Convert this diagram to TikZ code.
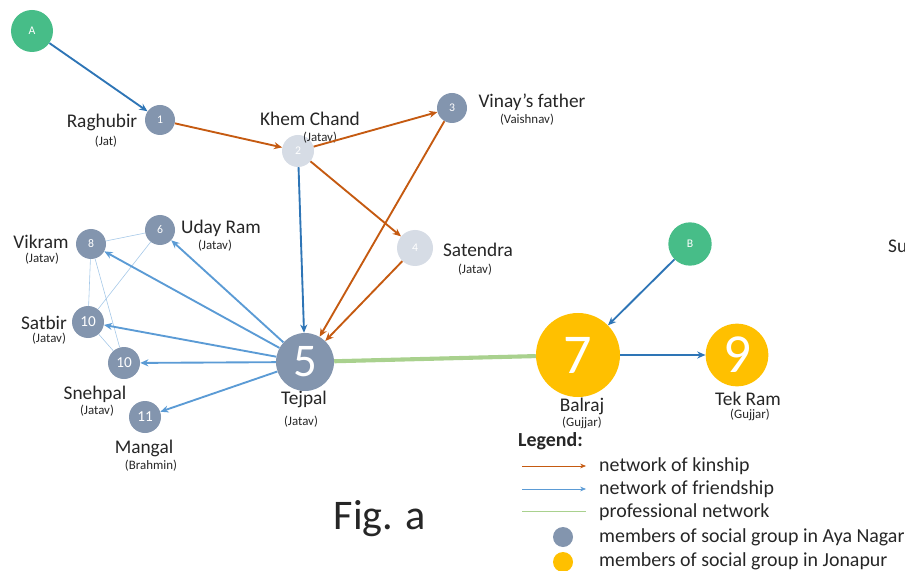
\documentclass[tikz,border=0pt]{standalone}
\usepackage{fontspec}
\setmainfont{Carlito}
\usetikzlibrary{arrows.meta}
\definecolor{seedgreen}{HTML}{47BD88}
\definecolor{ayagrey}{HTML}{8395AE}
\definecolor{palegrey}{HTML}{D6DCE5}
\definecolor{jonagold}{HTML}{FFC000}
\definecolor{kincol}{HTML}{C55A11}
\definecolor{friendcol}{HTML}{5B9BD5}
\definecolor{tiecol}{HTML}{2E75B6}
\definecolor{profcol}{HTML}{A9D18E}
\definecolor{inkcol}{HTML}{262626}
\tikzset{
  member/.style={circle,inner sep=0pt,text=white,font=\fontsize{10}{11}\selectfont},
  aya/.style={member,fill=ayagrey},
  pale/.style={member,fill=palegrey},
  seed/.style={member,fill=seedgreen},
  jona/.style={member,fill=jonagold},
  who/.style={text=inkcol,font=\fontsize{16.5}{18}\selectfont,inner sep=0pt},
  caste/.style={text=inkcol,font=\fontsize{11}{12}\selectfont,inner sep=0pt},
  keytext/.style={text=inkcol,font=\fontsize{17}{18}\selectfont,inner sep=0pt,anchor=west},
  kin/.style={kincol,line width=1.6pt,-{Stealth[length=7pt,width=6pt]}},
  friend/.style={friendcol,line width=1.6pt,-{Stealth[length=7pt,width=6pt]}},
  tie/.style={tiecol,line width=1.6pt,-{Stealth[length=7pt,width=6pt]}},
  mesh/.style={friendcol!55,line width=0.5pt},
  prof/.style={profcol,line width=3.5pt}
}
\begin{document}
\begin{tikzpicture}[x=0.03cm,y=-0.03cm]
  \useasboundingbox (0,0) rectangle (905,571);
  \path
    (32,31) node[seed,minimum size=1.26cm] (A){A}
    (690,244) node[seed,minimum size=1.3cm] (B){B}
    (160,120) node[aya,minimum size=0.9cm] (1){1}
    (298,151) node[pale,minimum size=0.96cm] (2){2}
    (452,108) node[aya,minimum size=0.9cm] (3){3}
    (415,248) node[pale,minimum size=1.08cm] (4){4}
    (305,362) node[aya,minimum size=1.74cm,font=\fontsize{40}{40}\selectfont] (5){5}
    (160,230) node[aya,minimum size=0.9cm] (6){6}
    (91,244) node[aya,minimum size=0.9cm] (8){8}
    (88,322) node[aya,minimum size=0.96cm,font=\fontsize{13}{14}\selectfont] (10){10}
    (124,363) node[aya,minimum size=0.96cm,font=\fontsize{13}{14}\selectfont] (10b){10}
    (145,417) node[aya,minimum size=0.96cm,font=\fontsize{13}{14}\selectfont] (11){11}
    (578,355) node[jona,minimum size=2.52cm,font=\fontsize{48}{48}\selectfont] (7){7}
    (737,355) node[jona,minimum size=1.88cm,font=\fontsize{47}{47}\selectfont] (9){9};
  % names and castes
  \path
    (102,122) node[who] (raghubir){Raghubir}
    (106,142) node[caste] (raghubirc){(Jat)}
    (310,119) node[who] (khem){Khem Chand}
    (320,138) node[caste] (khemc){(Jatav)}
    (532,102) node[who] (vinay){Vinay’s father}
    (527,120) node[caste] (vinayc){(Vaishnav)}
    (478,250) node[who] (satendra){Satendra}
    (475,270) node[caste] (satendrac){(Jatav)}
    (221,228) node[who] (uday){Uday Ram}
    (215,246) node[caste] (udayc){(Jatav)}
    (41,242) node[who] (vikram){Vikram}
    (42,259) node[caste] (vikramc){(Jatav)}
    (44,323) node[who] (satbir){Satbir}
    (49,339) node[caste] (satbirc){(Jatav)}
    (95,394) node[who] (snehpal){Snehpal}
    (97,411) node[caste] (snehpalc){(Jatav)}
    (144,448) node[who] (mangal){Mangal}
    (151,466) node[caste] (mangalc){(Brahmin)}
    (304,399) node[who] (tejpal){Tejpal}
    (301,422) node[caste] (tejpalc){(Jatav)}
    (582,406) node[who] (balraj){Balraj}
    (582,423) node[caste] (balrajc){(Gujjar)}
    (748,399) node[who] (tekram){Tek Ram}
    (750,415) node[caste] (tekramc){(Gujjar)}
    (888,246) node[who,anchor=west] (su){Su}
    (380,519) node[who,font=\fontsize{36}{38}\selectfont] (fig){Fig. a};
  \begin{scope}
    \draw[mesh] (8) to (6);
    \draw[mesh] (8) to (10);
    \draw[mesh] (8) to (10b);
    \draw[mesh] (6) to (10);
    \draw[mesh] (10) to (10b);
    \draw[prof] (5) to (7);
    \draw[tie] (A) to (1);
    \draw[kin] (1) to (2);
    \draw[kin] (2) to (3);
    \draw[kin] (2) to (4);
    \draw[tie] (2) to (5);
    \draw[kin] (3) to (5);
    \draw[kin] (4) to (5);
    \draw[friend] (5) to (6);
    \draw[friend] (5) to (8);
    \draw[friend] (5) to (10);
    \draw[friend] (5) to (10b);
    \draw[friend] (5) to (11);
    \draw[tie] (B) to (7);
    \draw[tie] (7) to (9);
  \end{scope}
  % legend
  \node[keytext,font=\bfseries\fontsize{17}{18}\selectfont] (legend) at (518,441) {Legend:};
  \coordinate (k0) at (522,466); \coordinate (k1) at (586,466);
  \coordinate (f0) at (522,489); \coordinate (f1) at (586,489);
  \coordinate (p0) at (522,511); \coordinate (p1) at (586,511);
  \draw[kincol,line width=0.6pt,-{Stealth[length=5pt,width=4pt]}] (k0) -- (k1);
  \draw[friendcol,line width=0.6pt,-{Stealth[length=5pt,width=4pt]}] (f0) -- (f1);
  \draw[profcol,line width=0.8pt] (p0) -- (p1);
  \node[circle,fill=ayagrey,inner sep=0pt,minimum size=0.6cm] (ayakey) at (563,537) {};
  \node[circle,fill=jonagold,inner sep=0pt,minimum size=0.6cm] (jonakey) at (563,562) {};
  \node[keytext] (kinkey) at (599,466) {network of kinship};
  \node[keytext] (friendkey) at (599,489) {network of friendship};
  \node[keytext] (profkey) at (599,512) {professional network};
  \node[keytext] (ayatext) at (599,537) {members of social group in Aya Nagar};
  \node[keytext] (jonatext) at (599,561) {members of social group in Jonapur};
\end{tikzpicture}
\end{document}
